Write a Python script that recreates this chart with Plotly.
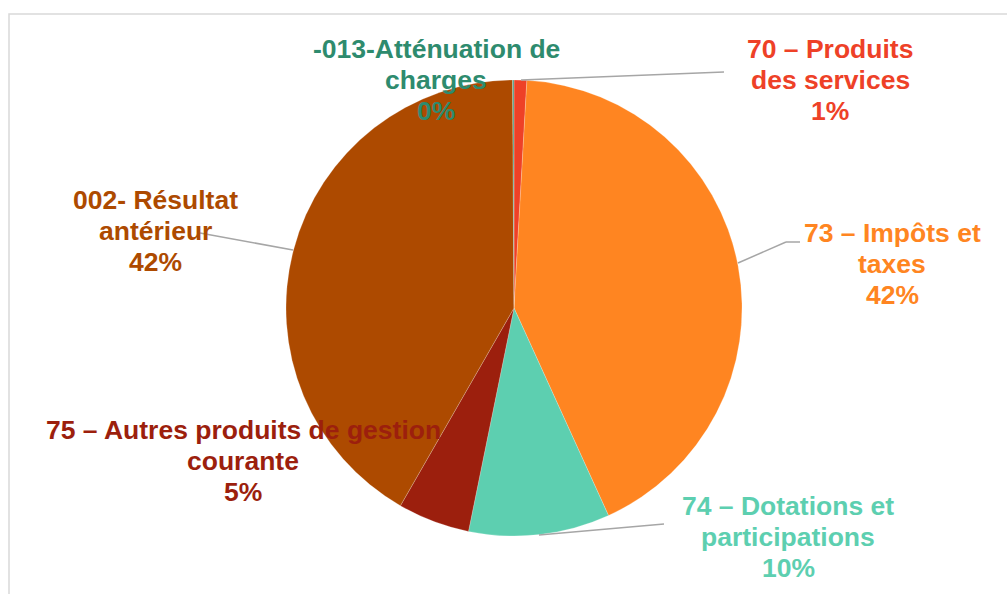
import plotly.graph_objects as go

# ---- data ----
categories = [
    "70 – Produits des services",
    "73 – Impôts et taxes",
    "74 – Dotations et participations",
    "75 – Autres produits de gestion courante",
    "002- Résultat antérieur",
    "-013-Atténuation de charges",
]
label_lines = [
    ["70 – Produits", "des services"],
    ["73 – Impôts et", "taxes"],
    ["74 – Dotations et", "participations"],
    ["75 – Autres produits de gestion", "courante"],
    ["002- Résultat", "antérieur"],
    ["-013-Atténuation de", "charges"],
]
values = [0.9, 42.3, 10.0, 5.1, 41.6, 0.1]
slice_colors = ["#EE4127", "#FF8521", "#5DCFB0", "#9C1F0D", "#AD4A00", "#4E9E84"]
text_colors = ["#EE4127", "#FF8521", "#5DCFB0", "#9C1F0D", "#AD4A00", "#2E8B6E"]

# ---- layout helpers (pixel -> paper, figure is 1007x594 with zero margins) ----
W, H = 1007, 594
def px(x):
    return x / W
def py(y):
    return 1 - y / H

# label block anchors (center x, first-line center y) in pixels
label_pos = [(830, 49), (892, 233), (788, 506), (243, 430), (155, 200), (436, 49)]
line_step = 31

# leader lines (polylines in pixels)
leaders = [
    [(521, 80), (724, 72)],
    [(738, 263), (786, 242), (800, 242)],
    [(539, 535), (664, 524)],
    [(293, 250), (200, 233)],
]

fig = go.Figure()
fig.add_trace(go.Pie(
    labels=categories,
    values=values,
    sort=False,
    direction="clockwise",
    rotation=0,
    textinfo="none",
    hoverinfo="label+percent",
    marker=dict(colors=slice_colors, line=dict(color="rgba(255,255,255,0.35)", width=0.6)),
    domain=dict(x=[px(286), px(742)], y=[py(536), py(80)]),
    showlegend=False,
))

total = sum(values)
annotations = []
for i, lines in enumerate(label_lines):
    pct = f"{round(values[i] / total * 100)}%"
    cx, cy = label_pos[i]
    for j, t in enumerate(lines + [pct]):
        annotations.append(dict(
            x=px(cx), y=py(cy + j * line_step), xref="paper", yref="paper",
            text=t, showarrow=False, xanchor="center", yanchor="middle",
            font=dict(family="Liberation Sans, Arial, sans-serif", size=26.5,
                      color=text_colors[i], weight="bold"),
        ))

shapes = []
for pts in leaders:
    for (x0, y0), (x1, y1) in zip(pts[:-1], pts[1:]):
        shapes.append(dict(type="line", xref="paper", yref="paper",
                           x0=px(x0), y0=py(y0), x1=px(x1), y1=py(y1),
                           line=dict(color="#A6A6A6", width=1.5), layer="above"))
# outer chart border (top and left visible)
shapes.append(dict(type="rect", xref="paper", yref="paper",
                   x0=px(9), y0=py(600), x1=px(1012), y1=py(14),
                   line=dict(color="#D9D9D9", width=1.5), layer="below"))

fig.update_layout(
    width=W, height=H,
    margin=dict(l=0, r=0, t=0, b=0),
    paper_bgcolor="white", plot_bgcolor="white",
    annotations=annotations, shapes=shapes,
)

fig.write_html("out.html", config={"displayModeBar": False},
               post_script="document.body.style.margin='0';document.body.style.padding='0';")
